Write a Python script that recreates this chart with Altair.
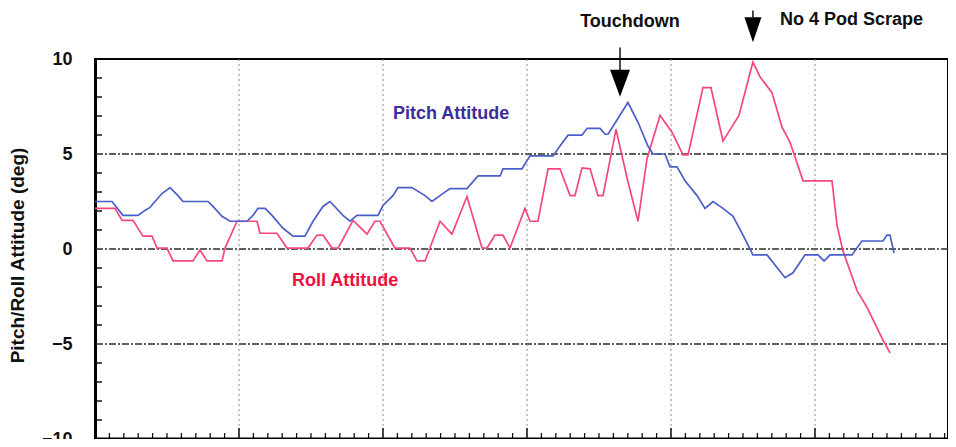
import altair as alt
import pandas as pd

# ---- data ----
pitch_x = [0, 1.18, 1.94, 2.99, 3.47, 3.82, 4.17, 4.65, 5.21, 5.76, 6.11, 7.85, 8.19, 8.82, 9.38,
           10.56, 10.97, 11.32, 11.81, 12.29, 13.06, 13.75, 14.58, 15.14, 15.83, 16.32, 17.22, 17.71,
           18.19, 19.65, 20.0, 20.69, 21.04, 22.01, 22.92, 23.40, 23.96, 24.65, 25.83, 26.60, 28.13,
           28.33, 29.65, 30.21, 31.81, 32.29, 32.85, 33.82, 34.17, 35.07, 35.42, 35.63, 37.01, 37.71,
           38.40, 38.75, 39.58, 39.93, 40.42, 40.97, 41.81, 42.36, 42.92, 43.61, 44.31, 45.0, 45.69,
           46.67, 47.92, 48.47, 49.31, 50.21, 50.63, 51.04, 52.57, 53.26, 54.72, 55.0, 55.21, 55.49]
pitch_y = [2.5, 2.5, 1.77, 1.77, 2.03, 2.19, 2.5, 2.92, 3.23, 2.81, 2.5, 2.5, 2.24, 1.72, 1.46,
           1.46, 1.77, 2.14, 2.14, 1.77, 1.09, 0.68, 0.68, 1.46, 2.24, 2.5, 1.77, 1.46,
           1.77, 1.77, 2.29, 2.81, 3.23, 3.23, 2.81, 2.5, 2.81, 3.18, 3.18, 3.85, 3.85,
           4.22, 4.22, 4.90, 4.90, 5.42, 5.99, 5.99, 6.35, 6.35, 6.04, 6.04, 7.71, 6.67,
           5.42, 5.0, 5.0, 4.32, 4.32, 3.59, 2.81, 2.14, 2.5, 2.14, 1.72, 0.73, -0.31,
           -0.31, -1.51, -1.25, -0.31, -0.31, -0.63, -0.31, -0.31, 0.42, 0.42, 0.73, 0.73, -0.21]

roll_x = [0, 1.39, 1.88, 2.64, 3.33, 3.96, 4.31, 5.0, 5.42, 6.81, 7.29, 7.78, 8.82, 9.03, 9.86,
          11.25, 11.46, 12.64, 13.33, 14.79, 15.42, 15.83, 16.46, 16.88, 17.92, 18.89, 19.44, 19.79,
          20.83, 21.88, 22.36, 22.92, 23.96, 24.79, 25.83, 26.88, 27.22, 27.78, 28.33, 28.82, 29.86,
          30.21, 30.76, 31.46, 32.29, 32.99, 33.33, 33.82, 34.38, 34.93, 35.28, 36.18, 37.01, 37.71,
          38.33, 39.24, 40.07, 40.83, 41.18, 42.22, 42.78, 43.61, 44.72, 45.69, 46.18, 47.01, 47.71,
          48.26, 49.17, 51.18, 51.53, 51.94, 52.92, 53.61, 54.72, 55.21]
roll_y = [2.14, 2.14, 1.51, 1.51, 0.68, 0.68, 0.05, 0.05, -0.63, -0.63, -0.05, -0.63, -0.63, 0.05, 1.46,
          1.46, 0.83, 0.83, 0.05, 0.05, 0.73, 0.73, 0.05, 0.05, 1.51, 0.78, 1.46, 1.46,
          0.05, 0.05, -0.63, -0.63, 1.46, 0.78, 2.76, 0.05, 0.05, 0.73, 0.73, 0.05, 2.14,
          1.46, 1.46, 4.22, 4.22, 2.81, 2.81, 4.27, 4.22, 2.81, 2.81, 6.30, 3.54, 1.46,
          4.74, 7.03, 6.15, 4.95, 4.95, 8.49, 8.49, 5.68, 7.03, 9.84, 9.06, 8.23, 6.41,
          5.63, 3.59, 3.59, 1.25, -0.10, -2.19, -3.07, -4.79, -5.47]

y_labels = [-10, -5, 0, 5, 10]
h_grid = [5, 0, -5]
v_grid = [10, 20, 30, 40, 50]
x_minor = [i for i in range(1, 60) if i % 10 != 0]
y_minor = [i for i in range(-9, 10) if i % 5 != 0]

series_labels = ["Pitch Attitude", "Roll Attitude"]
series_label_x = [20.69, 13.68]
series_label_y = [7.08, -1.67]
series_colors_text = ["#3b2d9c", "#ee1040"]

events = ["Touchdown", "No 4 Pod Scrape"]
event_text_x = [37.15, 47.57]
event_text_y = [11.93, 12.03]
arrow_x = [36.46, 45.69]
arrow_top = [10.6, 12.55]
arrow_base = [9.3, 12.19]
arrow_head_y = [8.72, 11.54]

# ---- layout ----
W, H = 853, 380
XMAX = W / 14.4
FONT = "Liberation Sans"

pitch = pd.DataFrame({"t": pitch_x, "v": pitch_y, "s": "Pitch"})
roll = pd.DataFrame({"t": roll_x, "v": roll_y, "s": "Roll"})
lines_df = pd.concat([roll, pitch])

xs = alt.Scale(domain=[0, XMAX], nice=False, zero=False)
ys = alt.Scale(domain=[-10, 10], nice=False)

y_axis = alt.Axis(
    values=y_labels, tickSize=0, labelPadding=23, labelFontSize=18, labelFont=FONT,
    labelFontWeight="bold", labelColor="#111", grid=False,
    domainColor="#000", domainWidth=3,
    title="Pitch/Roll Attitude (deg)", titleFont=FONT, titleFontSize=19,
    titleFontWeight="bold", titleColor="#111", titleAngle=-90,
    titleX=-78, titleY=196, titleAlign="center", titleBaseline="middle")


def Y(field):
    return alt.Y(field, scale=ys, axis=y_axis)


base_x = alt.X("t:Q", scale=xs, axis=None)

hgrid = alt.Chart(pd.DataFrame({"v": h_grid})).mark_rule(
    color="#2b2f24", strokeWidth=1.6, strokeDash=[7, 2, 2, 2]
).encode(y=Y("v:Q"))

vgrid = alt.Chart(pd.DataFrame({"t": v_grid})).mark_rule(
    color="#8a8a8a", strokeWidth=1, strokeDash=[2, 3]
).encode(x=base_x)

xticks_minor = alt.Chart(pd.DataFrame({"t": x_minor})).mark_rule(
    color="#111", strokeWidth=1.3
).encode(x=base_x, y=alt.value(H), y2=alt.value(H - 6))

xticks_major = alt.Chart(pd.DataFrame({"t": v_grid})).mark_rule(
    color="#111", strokeWidth=1.5
).encode(x=base_x, y=alt.value(H), y2=alt.value(H - 11))

yticks = alt.Chart(pd.DataFrame({"v": y_minor})).mark_rule(
    color="#111", strokeWidth=1.5
).encode(y=Y("v:Q"), x=alt.value(0), x2=alt.value(7))

lines = alt.Chart(lines_df).mark_line(strokeWidth=1.7, interpolate="linear").encode(
    x=base_x,
    y=Y("v:Q"),
    color=alt.Color("s:N", scale=alt.Scale(domain=["Pitch", "Roll"],
                                           range=["#4a5fc8", "#f4477f"]), legend=None),
    detail="s:N",
)

bottom_axis = alt.Chart(pd.DataFrame({"t": [0]})).mark_rule(
    color="#000", strokeWidth=3
).encode(x=alt.value(0), x2=alt.value(W), y=alt.value(H))

lbl_df = pd.DataFrame({"t": series_label_x, "v": series_label_y, "txt": series_labels,
                       "c": series_colors_text})
series_text = alt.Chart(lbl_df).mark_text(
    align="left", baseline="middle", font=FONT, fontSize=18, fontWeight="bold"
).encode(x=base_x, y=Y("v:Q"), text="txt:N",
         color=alt.Color("c:N", scale=None))

ev_df = pd.DataFrame({"t": event_text_x, "v": event_text_y, "txt": events})
ev_center = alt.Chart(ev_df.iloc[[0]]).mark_text(
    align="center", baseline="middle", font=FONT, fontSize=18, fontWeight="bold", color="#111"
).encode(x=base_x, y=Y("v:Q"), text="txt:N")
ev_left = alt.Chart(ev_df.iloc[[1]]).mark_text(
    align="left", baseline="middle", font=FONT, fontSize=18, fontWeight="bold", color="#111"
).encode(x=base_x, y=Y("v:Q"), text="txt:N")

arr_df = pd.DataFrame({"t": arrow_x, "v": arrow_top, "v2": arrow_base, "hy": arrow_head_y})
arrow_shaft = alt.Chart(arr_df).mark_rule(color="#111", strokeWidth=1.5).encode(
    x=base_x, y=Y("v:Q"), y2="v2:Q")
head1 = alt.Chart(arr_df.iloc[[0]]).mark_point(
    shape="M-1,-1.35L1,-1.35L0,1.35Z", size=400, filled=True, color="#000", opacity=1
).encode(x=base_x, y=Y("hy:Q"))
head2 = alt.Chart(arr_df.iloc[[1]]).mark_point(
    shape="M-1,-1.47L1,-1.47L0,1.47Z", size=289, filled=True, color="#000", opacity=1
).encode(x=base_x, y=Y("hy:Q"))

chart = alt.layer(
    hgrid, vgrid, xticks_minor, xticks_major, yticks, lines, bottom_axis,
    series_text, ev_center, ev_left, arrow_shaft, head1, head2
).properties(
    width=W, height=H,
    autosize=alt.AutoSizeParams(type="none"),
    padding={"left": 87, "top": 51, "right": 0, "bottom": 0},
    background="#ffffff",
).configure_view(stroke="#000", strokeWidth=2)

chart.save("out.html", embed_options={"renderer": "svg", "actions": False})
